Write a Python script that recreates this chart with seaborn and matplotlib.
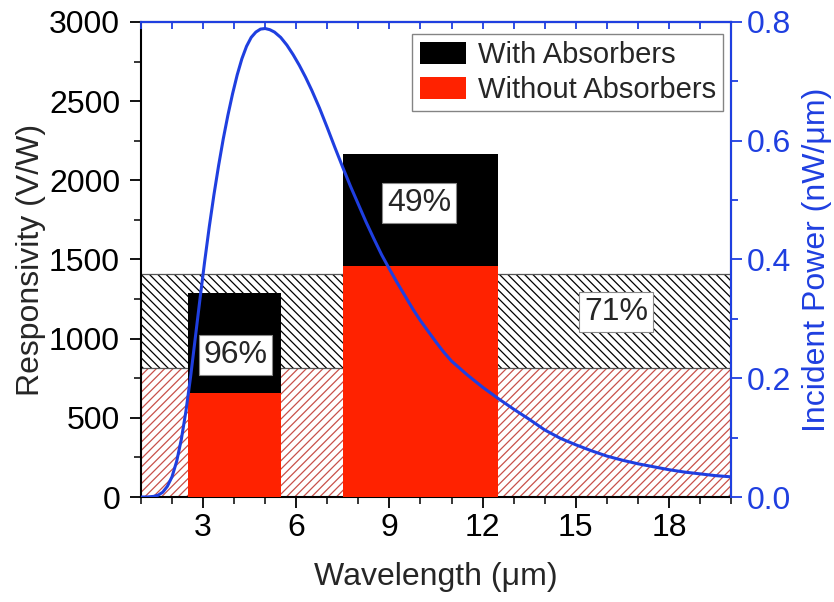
import numpy as np
import pandas as pd
import seaborn as sns
import matplotlib
matplotlib.use("Agg")
import matplotlib.pyplot as plt
from matplotlib.patches import Patch
from matplotlib.ticker import MultipleLocator, FormatStrFormatter

# ---------------- data ----------------
bar_centers = [4.0, 10.0]
bar_widths = [3.0, 5.0]
with_absorbers = [1288, 2166]
without_absorbers = [657, 1459]
bar_labels = ["96%", "49%"]
bar_label_y = [897, 1855]
bar_label_x = [4.05, 9.95]

band_x = [1.0, 20.0]
band_with = 1410
band_without = 815
band_label = "71%"
band_label_pos = (16.3, 1168)

wl = [1.0, 1.2, 1.4, 1.55, 1.7, 1.85, 2.0, 2.15, 2.3, 2.45, 2.6, 2.75, 2.9,
      3.05, 3.2, 3.35, 3.5, 3.65, 3.8, 3.95, 4.1, 4.25, 4.4, 4.55, 4.7, 4.85,
      5.0, 5.15, 5.3, 5.5, 5.7, 5.9, 6.1, 6.3, 6.5, 6.75, 7.0, 7.25, 7.5,
      7.75, 8.0, 8.25, 8.5, 8.75, 9.0, 9.25, 9.5, 9.75, 10.0, 10.25, 10.5,
      10.75, 11.0, 11.5, 12.0, 12.5, 13.0, 13.5, 14.0, 14.5, 15.0, 15.5,
      16.0, 16.5, 17.0, 17.5, 18.0, 18.5, 19.0, 19.5, 20.0]
power = [0.0, 0.0, 0.001, 0.003, 0.008, 0.018, 0.034, 0.060, 0.097, 0.145,
         0.203, 0.268, 0.333, 0.396, 0.455, 0.509, 0.558, 0.603, 0.643,
         0.679, 0.711, 0.738, 0.759, 0.774, 0.783, 0.788, 0.789, 0.787,
         0.783, 0.774, 0.761, 0.745, 0.727, 0.707, 0.685, 0.655, 0.622,
         0.588, 0.555, 0.523, 0.493, 0.463, 0.435, 0.408, 0.384, 0.361,
         0.339, 0.317, 0.297, 0.279, 0.261, 0.244, 0.229, 0.206, 0.185,
         0.166, 0.148, 0.131, 0.113, 0.099, 0.088, 0.078, 0.069, 0.062,
         0.056, 0.051, 0.046, 0.042, 0.039, 0.036, 0.034]

RED = "#FF2200"
BLUE = "#1F3FE0"
HATCH_RED = "#C8504A"

sns.set_theme(style="ticks")
plt.rcParams["font.family"] = ["Liberation Sans", "DejaVu Sans"]
plt.rcParams["hatch.linewidth"] = 0.9
plt.rcParams["axes.linewidth"] = 1.5

fig = plt.figure(figsize=(8.34, 6.02), dpi=100)
ax = fig.add_axes([0.169, 0.1744, 0.7075, 0.7891])

# hatched background bands
ax.fill_between(band_x, band_without, band_with, facecolor="white",
                edgecolor="black", hatch="\\\\\\\\", linewidth=0, zorder=1)
ax.fill_between(band_x, 0, band_without, facecolor="white",
                edgecolor=HATCH_RED, hatch="////", linewidth=0, zorder=1)
ax.plot(band_x, [band_with, band_with], color="#555555", lw=0.9, zorder=1.5)
ax.plot(band_x, [band_without, band_without], color="#555555", lw=0.9,
        zorder=1.5)

# bars
ax.bar(bar_centers, with_absorbers, width=bar_widths, color="black",
       edgecolor="none", zorder=2)
ax.bar(bar_centers, without_absorbers, width=bar_widths, color=RED,
       edgecolor="none", zorder=3)

ax.set_xlim(1, 20)
ax.set_ylim(0, 3000)
ax.xaxis.set_major_locator(MultipleLocator(3))
ax.xaxis.set_minor_locator(MultipleLocator(1))
ax.yaxis.set_major_locator(MultipleLocator(500))
ax.yaxis.set_minor_locator(MultipleLocator(250))
ax.tick_params(axis="both", which="major", direction="out", length=8,
               width=1.3, labelsize=23, colors="black")
ax.tick_params(axis="y", which="major", pad=7)
ax.tick_params(axis="both", which="minor", direction="out", length=5,
               width=1.3)
ax.set_xlabel("Wavelength (\u03bcm)", fontsize=23, labelpad=14)
ax.set_ylabel("Responsivity (V/W)", fontsize=23, labelpad=2)
for s in ["left", "bottom"]:
    ax.spines[s].set_color("black")
    ax.spines[s].set_linewidth(1.5)

# right axis with incident power
ax2 = ax.twinx()
df = pd.DataFrame({"wl": wl, "power": power})
sns.lineplot(data=df, x="wl", y="power", ax=ax2, color=BLUE, lw=2.2,
             zorder=5)
ax2.set_ylim(0, 0.8)
ax2.set_xlim(1, 20)
ax2.yaxis.set_major_locator(MultipleLocator(0.2))
ax2.yaxis.set_minor_locator(MultipleLocator(0.1))
ax2.yaxis.set_major_formatter(FormatStrFormatter("%.1f"))
ax2.tick_params(axis="y", which="major", direction="out", length=8,
                width=1.3, labelsize=23, colors=BLUE)
ax2.tick_params(axis="y", which="minor", direction="out", length=5,
                width=1.3, colors=BLUE)
ax2.set_ylabel("Incident Power (nW/\u03bcm)", fontsize=23, color=BLUE,
               labelpad=8)
ax2.set_xlabel("")
ax2.spines["right"].set_color(BLUE)
ax2.spines["right"].set_linewidth(1.5)
ax2.spines["top"].set_color(BLUE)
ax2.spines["top"].set_linewidth(1.5)
ax2.spines["left"].set_visible(False)
ax2.spines["bottom"].set_visible(False)

# top ticks (inward, blue)
top = ax2.secondary_xaxis("top")
top.xaxis.set_major_locator(MultipleLocator(1))
top.tick_params(axis="x", which="major", direction="in", length=5,
                width=1.3, colors=BLUE, labeltop=False)
top.spines["top"].set_color(BLUE)
top.set_xticklabels([])

# percentage labels
box = dict(boxstyle="square,pad=0.15", facecolor="white",
           edgecolor="#888888", linewidth=0.8)
for xx, yy, t in zip(bar_label_x, bar_label_y, bar_labels):
    ax2.text(xx, yy, t, transform=ax.transData, fontsize=23, ha="center",
             va="center", bbox=box, zorder=10)
ax2.text(band_label_pos[0], band_label_pos[1], band_label,
         transform=ax.transData, fontsize=23, ha="center", va="center",
         bbox=box, zorder=10)

# legend
handles = [Patch(facecolor="black", edgecolor="none", label="With Absorbers"),
           Patch(facecolor=RED, edgecolor="none", label="Without Absorbers")]
leg = ax2.legend(handles=handles, loc="upper right", fontsize=21,
                 frameon=True, fancybox=False, edgecolor="#666666",
                 bbox_to_anchor=(0.997, 0.988), borderaxespad=0.2,
                 handlelength=1.6, handleheight=0.8, handletextpad=0.4,
                 labelspacing=0.25, borderpad=0.25)
leg.get_frame().set_linewidth(1.0)
leg.set_zorder(20)

fig.savefig("out.png", dpi=100)
